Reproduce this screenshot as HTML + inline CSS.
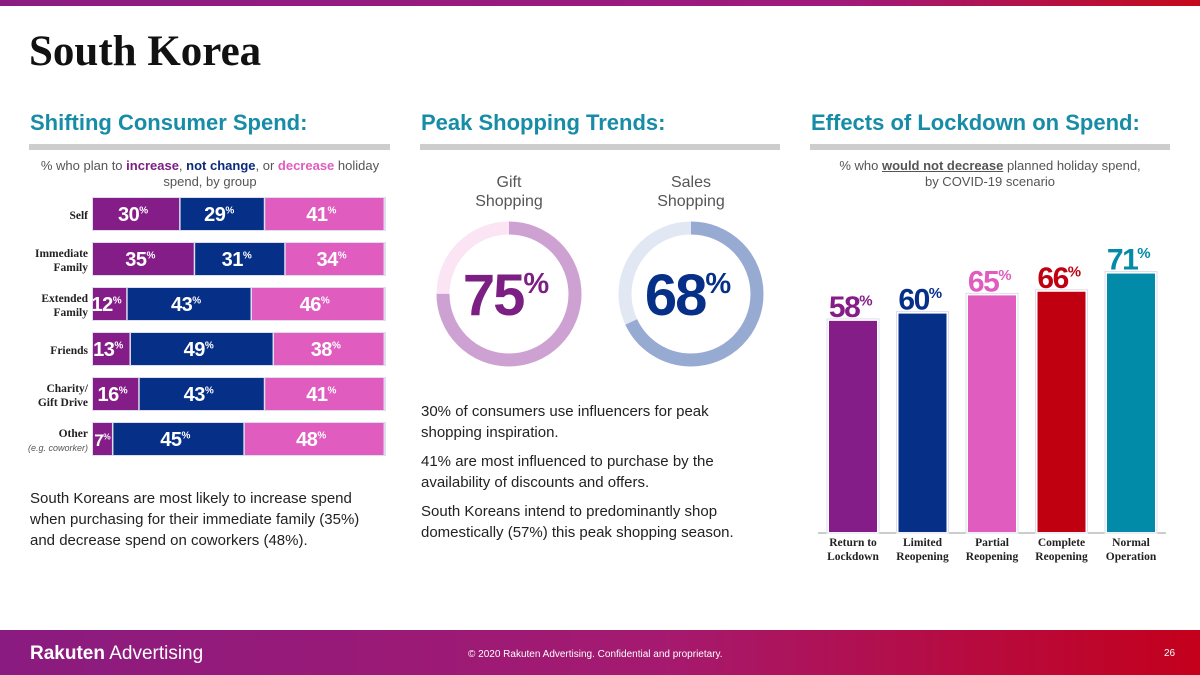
<!DOCTYPE html>
<html><head><meta charset="utf-8"><style>
body{margin:0;width:1200px;height:675px;overflow:hidden;background:#fff;font-family:"Liberation Sans",sans-serif;position:relative}
.abs{position:absolute}
.h2{position:absolute;top:110px;font-size:22px;font-weight:bold;color:#178ca6;white-space:nowrap}
.rule{position:absolute;top:144px;height:6px;background:#cdcdcd}
.sub{position:absolute;font-size:13px;color:#555;text-align:center;line-height:16px}
.body{position:absolute;font-size:15px;color:#222;line-height:21px}
.serif{font-family:"Liberation Serif",serif}
</style></head><body>
<div class="abs" style="left:0;top:0;width:1200px;height:6px;background:linear-gradient(90deg,#8b1d82,#a01a7c 70%,#c40a1a)"></div>
<div class="abs serif" style="left:29px;top:27px;font-size:43px;font-weight:bold;color:#111">South Korea</div>

<div class="h2" style="left:30px">Shifting Consumer Spend:</div>
<div class="rule" style="left:29px;width:361px"></div>
<div class="h2" style="left:421px">Peak Shopping Trends:</div>
<div class="rule" style="left:420px;width:360px"></div>
<div class="h2" style="left:811px">Effects of Lockdown on Spend:</div>
<div class="rule" style="left:810px;width:360px"></div>

<div class="sub" style="left:30px;top:158px;width:360px">% who plan to <b style="color:#7b1f82">increase</b>, <b style="color:#0b2a7a">not change</b>, or <b style="color:#e05cbf">decrease</b> holiday<br>spend, by group</div>
<svg class="abs" id="stack" style="left:0;top:190px" width="400" height="280"></svg>

<div class="body" style="left:30px;top:488px;width:354px">South Koreans are most likely to increase spend when purchasing for their immediate family (35%) and decrease spend on coworkers (48%).</div>

<div class="sub" style="left:449px;top:173px;width:120px;font-size:16px;line-height:19px;color:#555">Gift<br>Shopping</div>
<div class="sub" style="left:631px;top:173px;width:120px;font-size:16px;line-height:19px;color:#555">Sales<br>Shopping</div>
<svg class="abs" id="donuts" style="left:420px;top:210px" width="360" height="170"></svg>

<div class="body" style="left:421px;top:401px;width:338px">
<div style="margin-bottom:8px">30% of consumers use influencers for peak shopping inspiration.</div>
<div style="margin-bottom:8px">41% are most influenced to purchase by the availability of discounts and offers.</div>
<div>South Koreans intend to predominantly shop domestically (57%) this peak shopping season.</div></div>

<div class="sub" style="left:810px;top:158px;width:360px">% who <b><u>would not decrease</u></b> planned holiday spend,<br>by COVID-19 scenario</div>
<svg class="abs" id="bars" style="left:810px;top:230px" width="380" height="340"></svg>

<div class="abs" style="left:0;top:630px;width:1200px;height:45px;background:linear-gradient(90deg,#8a1b80,#a51a70 55%,#c4001c)"></div>
<div class="abs" style="left:30px;top:643px;font-size:19px;color:#fff"><b>Rakuten</b> Advertising</div>
<div class="abs" style="left:468px;top:649px;font-size:10px;color:#fff">© 2020 Rakuten Advertising. Confidential and proprietary.</div>
<div class="abs" style="left:1164px;top:648px;font-size:10px;color:#fff">26</div>

<script>
const groups=["Self","Immediate|Family","Extended|Family","Friends","Charity/|Gift Drive","Other|(e.g. coworker)"];
const increase=[30,35,12,13,16,7];
const noChange=[29,31,43,49,43,45];
const decrease=[41,34,46,38,41,48];
const scenarios=["Return to|Lockdown","Limited|Reopening","Partial|Reopening","Complete|Reopening","Normal|Operation"];
const notDecrease=[58,60,65,66,71];
const donutLabels=["Gift","Sales"];
const donutValues=[75,68];
const NS="http://www.w3.org/2000/svg";
function mk(p,t,a){const e=document.createElementNS(NS,t);for(const k in a)e.setAttribute(k,a[k]);p.appendChild(e);return e;}
function pctText(p,x,y,v,size,color,anchor,name,ls){const t=mk(p,'text',{x:x,y:y,'text-anchor':anchor,'font-family':'Liberation Sans, sans-serif','font-weight':'bold','font-size':size,fill:color,'letter-spacing':ls});


t.textContent=v;const s=mk(t,'tspan',{'font-size':size*0.5,dy:-size*0.38});s.textContent='%';return t;}
// stacked
const st=document.getElementById('stack');
const x0=93,W=292,rowY=r=>8+r*45,rh=32;
const cols=['#841d87','#062f88','#e05cbf'];
groups.forEach((g,i)=>{
  const vals=[increase[i],noChange[i],decrease[i]];const tot=vals.reduce((a,b)=>a+b,0);
  mk(st,'rect',{x:x0-1,y:rowY(i)-1,width:W+2,height:rh+2,fill:'#dde'});
  let x=x0;
  vals.forEach((v,j)=>{const w=v/tot*W;
    const r=mk(st,'rect',{x:x,y:rowY(i),width:w-1.5,height:rh,fill:cols[j]});
    
    
    const sz=w<30?17:20;
    const cx=w<30?x+w/2-1:x+w/2-4;
    pctText(st,cx,rowY(i)+23,v,sz,'#fff','middle','segment-label',-0.5);
    x+=w;});
  const parts=g.split('|');
  parts.forEach((p,k)=>{const small=k==1&&p.startsWith('(');
    const t=mk(st,'text',{x:88,y:rowY(i)+(parts.length==1?21:14+k*14),'text-anchor':'end','font-family':small?'Liberation Sans, sans-serif':'Liberation Serif, serif','font-weight':small?'normal':'bold','font-style':small?'italic':'normal','font-size':small?9:11.5,fill:small?'#555':'#222'});
    
    
    t.textContent=p;});
});
// donuts
const dn=document.getElementById('donuts');
const dcx=[89,271],dcy=84,R=66,th=13;
const bg=['#fbe4f4','#e1e7f3'],fg=['#cda2d2','#97aad2'],tc=['#7b1f82','#062f88'];
donutValues.forEach((v,i)=>{
  mk(dn,'circle',{cx:dcx[i],cy:dcy,r:R,fill:'none',stroke:bg[i],'stroke-width':th});
  const C=2*Math.PI*R;
  const a=mk(dn,'circle',{cx:dcx[i],cy:dcy,r:R,fill:'none',stroke:fg[i],'stroke-width':th,'stroke-dasharray':(v/100*C)+' '+C,transform:'rotate(-90 '+dcx[i]+' '+dcy+')'});
  
  
  pctText(dn,dcx[i]-4,dcy+21,v,58,tc[i],'middle',donutLabels[i].toLowerCase()+'-value',-2);
});
// bars
const br=document.getElementById('bars');
const base=302,scale=3.64,bw=48,step=69.5,bx0=19;
const bc=['#841d87','#062f88','#e05cbf','#c00010','#028ba8'];
const yv=v=>base-v*scale;
mk(br,'line',{x1:8,x2:356,y1:base+1,y2:base+1,stroke:'#999','stroke-width':1});
notDecrease.forEach((v,i)=>{
  const x=bx0+i*step;
  mk(br,'rect',{x:x-2,y:yv(v)-2,width:bw+4,height:v*scale+3,fill:'none',stroke:'#dde','stroke-width':1});
  const r=mk(br,'rect',{x:x,y:yv(v),width:bw,height:v*scale,fill:bc[i]});
  
  
  pctText(br,x+bw/2-3,yv(v)-4,v,30,bc[i],'middle','bar-value',-1.5);
  scenarios[i].split('|').forEach((p,k)=>{const t=mk(br,'text',{x:x+bw/2,y:base+14+k*14,'text-anchor':'middle','font-family':'Liberation Serif, serif','font-weight':'bold','font-size':11.5,fill:'#222'});
    
    
    t.textContent=p;});
});
</script>
</body></html>
